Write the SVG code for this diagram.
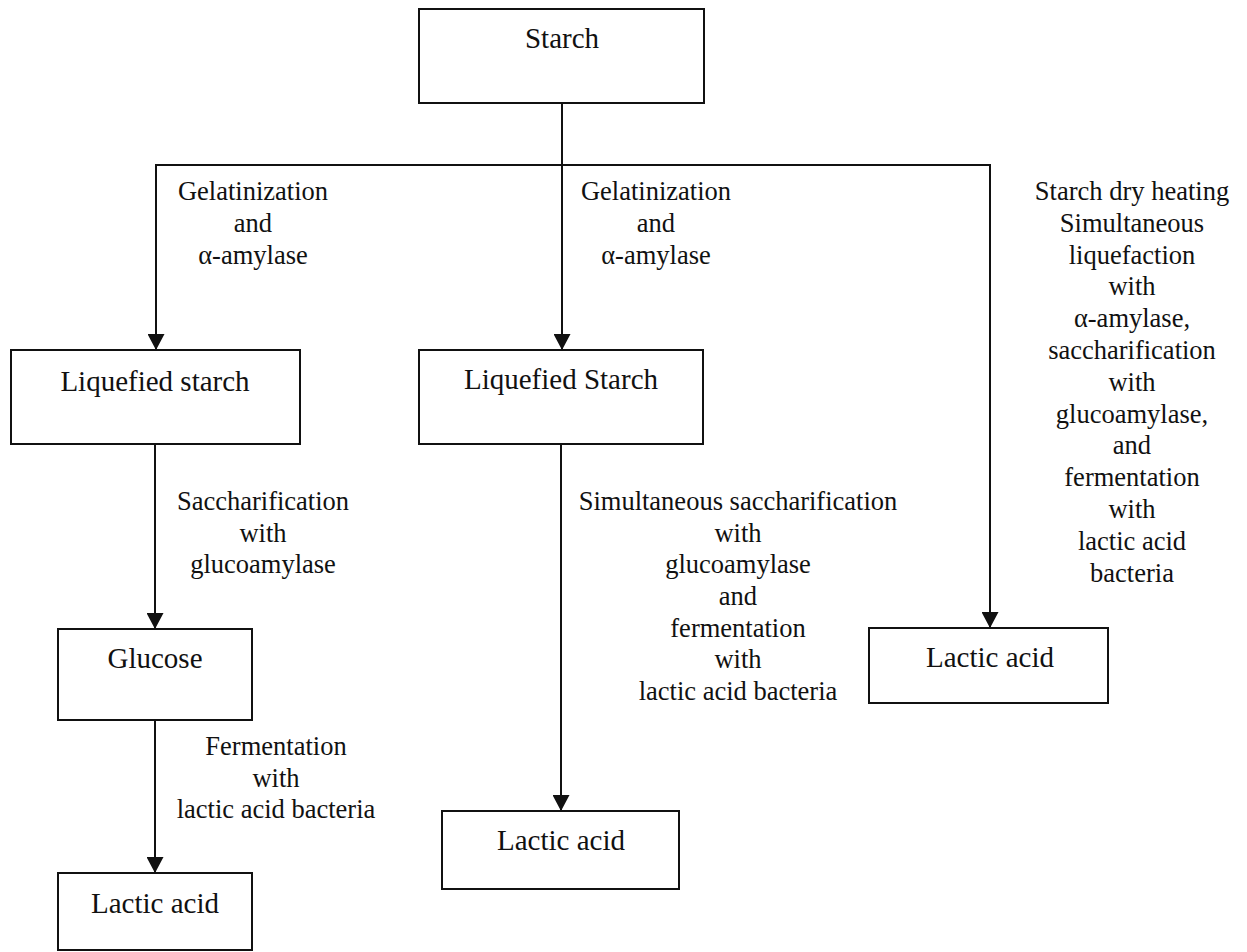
<svg xmlns="http://www.w3.org/2000/svg" width="1247" height="952" viewBox="0 0 1247 952">
<defs>
<marker id="arr" markerUnits="userSpaceOnUse" markerWidth="17" markerHeight="17" refX="16" refY="8.5" orient="auto">
<path d="M0,0 L16,8.5 L0,17 z" fill="#111"/>
</marker>
<style>
.box{fill:none;stroke:#111;stroke-width:2}
.bt{font-family:"Liberation Serif","Times New Roman",serif;font-size:29px;fill:#111;text-anchor:middle}
.lt{font-family:"Liberation Serif","Times New Roman",serif;font-size:26.5px;fill:#111;text-anchor:middle}
.ln{fill:none;stroke:#111;stroke-width:2}
</style>
</defs>
<rect width="1247" height="952" fill="#fff"/>
<g id="connectors">
<line class="ln" x1="562" y1="103" x2="562" y2="165"/>
<line class="ln" x1="155" y1="165" x2="991" y2="165"/>
<line class="ln" x1="156" y1="165" x2="156" y2="350" marker-end="url(#arr)"/>
<line class="ln" x1="562" y1="165" x2="562" y2="350" marker-end="url(#arr)"/>
<line class="ln" x1="990" y1="165" x2="990" y2="628" marker-end="url(#arr)"/>
<line class="ln" x1="155" y1="444" x2="155" y2="629" marker-end="url(#arr)"/>
<line class="ln" x1="155" y1="720" x2="155" y2="873" marker-end="url(#arr)"/>
<line class="ln" x1="561" y1="444" x2="561" y2="811" marker-end="url(#arr)"/>
</g>
<g id="labels">
<text class="lt" x="253" y="200">Gelatinization</text>
<text class="lt" x="253" y="232">and</text>
<text class="lt" x="253" y="264">α-amylase</text>
<text class="lt" x="656" y="200">Gelatinization</text>
<text class="lt" x="656" y="232">and</text>
<text class="lt" x="656" y="264">α-amylase</text>
<text class="lt" x="1132" y="200">Starch dry heating</text>
<text class="lt" x="1132" y="231.8">Simultaneous</text>
<text class="lt" x="1132" y="263.6">liquefaction</text>
<text class="lt" x="1132" y="295.4">with</text>
<text class="lt" x="1132" y="327.2">α-amylase,</text>
<text class="lt" x="1132" y="359">saccharification</text>
<text class="lt" x="1132" y="390.8">with</text>
<text class="lt" x="1132" y="422.6">glucoamylase,</text>
<text class="lt" x="1132" y="454.4">and</text>
<text class="lt" x="1132" y="486.2">fermentation</text>
<text class="lt" x="1132" y="518">with</text>
<text class="lt" x="1132" y="549.8">lactic acid</text>
<text class="lt" x="1132" y="581.6">bacteria</text>
<text class="lt" x="263" y="510">Saccharification</text>
<text class="lt" x="263" y="541.7">with</text>
<text class="lt" x="263" y="573.4">glucoamylase</text>
<text class="lt" x="276" y="755">Fermentation</text>
<text class="lt" x="276" y="786.5">with</text>
<text class="lt" x="276" y="818">lactic acid bacteria</text>
<text class="lt" x="738" y="510">Simultaneous saccharification</text>
<text class="lt" x="738" y="541.7">with</text>
<text class="lt" x="738" y="573.4">glucoamylase</text>
<text class="lt" x="738" y="605">and</text>
<text class="lt" x="738" y="636.7">fermentation</text>
<text class="lt" x="738" y="668.4">with</text>
<text class="lt" x="738" y="700">lactic acid bacteria</text>
</g>
<g id="starch">
<rect class="box" x="419" y="9" width="285" height="94"/>
<text class="bt" x="562" y="48">Starch</text>
</g>
<g id="liquefied-starch-left">
<rect class="box" x="11" y="350" width="289" height="94"/>
<text class="bt" x="155" y="391">Liquefied starch</text>
</g>
<g id="liquefied-starch-mid">
<rect class="box" x="419" y="350" width="284" height="94"/>
<text class="bt" x="561" y="389">Liquefied Starch</text>
</g>
<g id="glucose">
<rect class="box" x="58" y="629" width="194" height="91"/>
<text class="bt" x="155" y="668">Glucose</text>
</g>
<g id="lactic-left">
<rect class="box" x="58" y="873" width="194" height="77"/>
<text class="bt" x="155" y="913">Lactic acid</text>
</g>
<g id="lactic-mid">
<rect class="box" x="442" y="811" width="237" height="78"/>
<text class="bt" x="561" y="850">Lactic acid</text>
</g>
<g id="lactic-right">
<rect class="box" x="869" y="628" width="239" height="75"/>
<text class="bt" x="990" y="667">Lactic acid</text>
</g>
</svg>
